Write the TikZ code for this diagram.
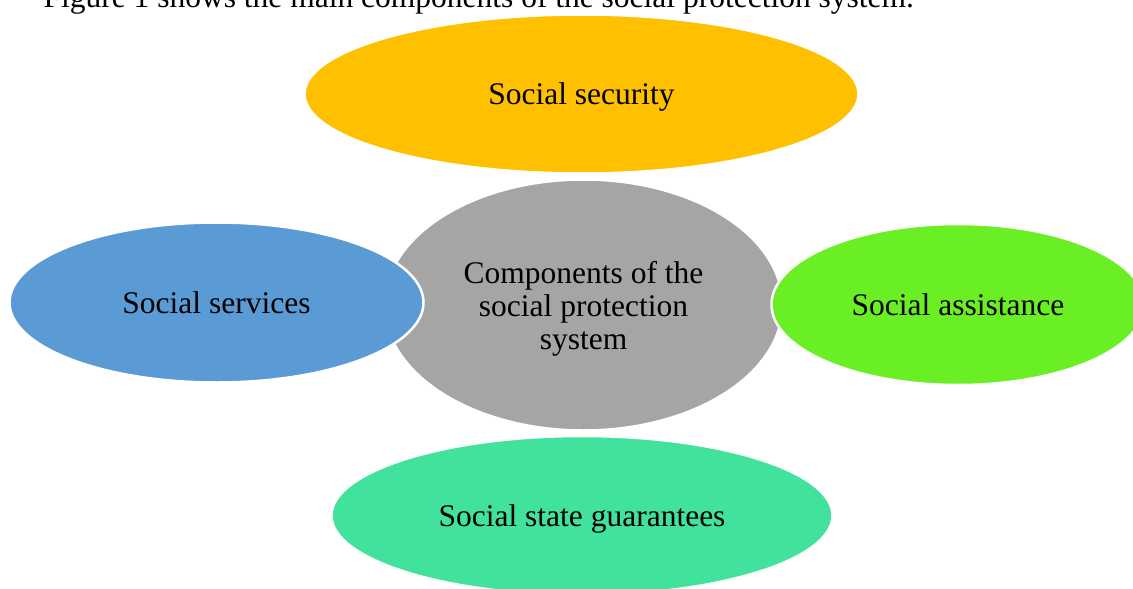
\documentclass[tikz,border=0pt]{standalone}
\usepackage{fontspec}
\setmainfont{Liberation Serif}
\usetikzlibrary{shapes,shapes.geometric}

\begin{document}
\begin{tikzpicture}[x=1pt,y=-1pt]
	\tikzstyle{every node}=[font=\fontsize{31.5}{33}\selectfont, text=black]
	\tikzstyle{blob}=[ellipse, inner sep=0pt, draw=white, line width=2.5pt, align=center, text depth=0pt]
	
	\definecolor{c00secu}{RGB}{255,192,0}
	\definecolor{c00core}{RGB}{165,165,165}
	\definecolor{c00serv}{RGB}{91,155,213}
	\definecolor{c00assi}{RGB}{106,239,36}
	\definecolor{c00guar}{RGB}{65,226,156}
	%%page frame
	
	\useasboundingbox (0.0000,0.0000) rectangle (1133.0000,589.0000);
	\clip (0.0000,0.0000) rectangle (1133.0000,589.0000);
	
	\node [anchor=base west]  (intro) at (40.0000,8.0000)  {Figure 1 shows the main components of the social protection system.};
	
	\node [blob, fill= c00secu, minimum width=554.0000, minimum height=159.0000]  (secu) at (581.5000,94.0000)  {Social security};
	\node [blob, fill= c00core, minimum width=398.0000, minimum height=251.0000]  (core) at (583.5000,305.0000)  {Components of the\\social protection\\system};
	\node [blob, fill= c00serv, minimum width=414.0000, minimum height=160.0000]  (serv) at (216.5000,302.5000)  {Social services};
	\node [blob, fill= c00assi, minimum width=373.0000, minimum height=161.0000]  (assi) at (958.0000,304.5000)  {Social assistance};
	\node [blob, fill= c00guar, minimum width=501.0000, minimum height=159.0000]  (guar) at (582.0000,515.5000)  {Social state guarantees};

\end{tikzpicture}
\end{document}
